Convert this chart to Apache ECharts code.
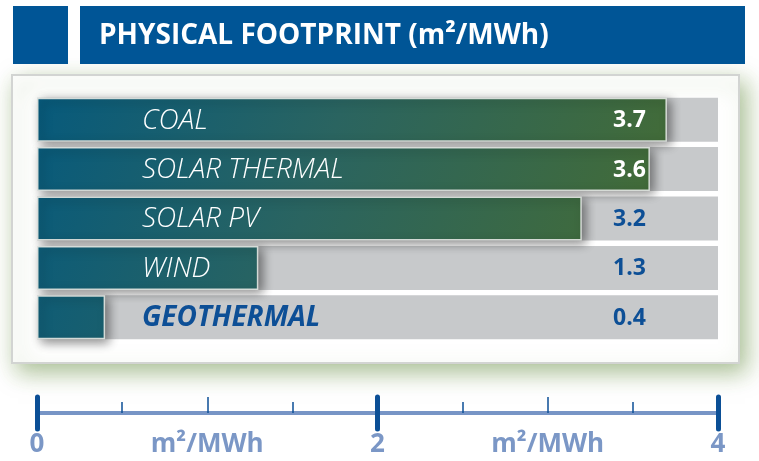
<!DOCTYPE html>
<html>
<head>
<meta charset="utf-8">
<script src="https://cdn.jsdelivr.net/npm/echarts@6/dist/echarts.min.js"></script>
<style>
  html, body { margin: 0; padding: 0; background: #fff; }
  #main { width: 759px; height: 461px; }
</style>
</head>
<body>
<div id="main"></div>
<script>
// data
const categories = ['COAL', 'SOLAR THERMAL', 'SOLAR PV', 'WIND', 'GEOTHERMAL']
const values = [3.7, 3.6, 3.2, 1.3, 0.4]
const axisMax = 4
const scaleLabels = ['0', 'm²/MWh', '2', 'm²/MWh', '4']

const chart = echarts.init(document.getElementById('main'))

const FONT = '"Open Sans", "Noto Sans", sans-serif'
const BLUE = '#0d4f96'

// bar fill runs across the whole plot (teal at left/top, green at right/bottom)
const barFill = new echarts.graphic.LinearGradient(37, 95, 720, 345, [
  { offset: 0, color: '#075a7c' },
  { offset: 0.4, color: '#2a6460' },
  { offset: 1, color: '#4b6e2a' }
], true)

const dataItems = values.map(function (v) {
  // labels that sit past the bar end are drawn in blue
  const nameOnBar = v >= 0.8
  const valueOnBar = v >= 3.5
  return {
    value: v,
    label: {
      rich: {
        n: {
          color: nameOnBar ? '#fff' : BLUE,
          fontStyle: 'italic',
          fontWeight: nameOnBar ? 300 : 'bold',
          fontSize: 28,
          fontFamily: FONT
        },
        v: {
          color: valueOnBar ? '#fff' : BLUE,
          fontWeight: 'bold',
          fontSize: 23,
          fontFamily: FONT
        }
      }
    }
  }
})

const majorTickAxis = function (inside) {
  return {
    type: 'value',
    min: 0,
    max: axisMax,
    interval: 2,
    position: 'bottom',
    offset: 71,
    axisLine: { show: false },
    axisTick: { show: true, inside: inside, length: 16, lineStyle: { color: '#0b4f96', width: 5, cap: 'round' } },
    axisLabel: { show: false },
    splitLine: { show: false }
  }
}

const option = {
  animation: false,
  grid: { left: 37, right: 41, top: 95, bottom: 119, outerBoundsMode: 'none', containLabel: false },
  graphic: [
    { type: 'rect', shape: { x: 13, y: 6, width: 55, height: 58 }, style: { fill: '#005596' } },
    { type: 'rect', shape: { x: 80, y: 6, width: 665, height: 58 }, style: { fill: '#005596' } },
    {
      type: 'text', x: 99, y: 36,
      style: {
        text: 'PHYSICAL FOOTPRINT (m²/MWh)', fill: '#fff', font: 'bold 28px ' + FONT,
        verticalAlign: 'middle'
      }
    },
    {
      type: 'rect', z: -1,
      shape: { x: 12, y: 75, width: 727, height: 288 },
      style: {
        fill: '#fff', stroke: '#d2d4d2', lineWidth: 2,
        shadowBlur: 22, shadowColor: 'rgba(95,135,55,0.55)', shadowOffsetX: 6, shadowOffsetY: 8
      }
    }
  ],
  xAxis: [
    {
      type: 'value',
      min: 0,
      max: axisMax,
      interval: 1,
      position: 'bottom',
      offset: 71,
      axisLine: { show: true, lineStyle: { color: '#7795c6', width: 4 } },
      axisTick: { show: true, inside: true, length: 16, lineStyle: { color: BLUE, width: 1.5 } },
      minorTick: { show: true, splitNumber: 2, length: 11, lineStyle: { color: BLUE, width: 1.5 } },
      axisLabel: {
        margin: 19,
        color: '#7b97c6',
        fontSize: 26,
        fontWeight: 'bold',
        fontFamily: FONT,
        formatter: function (v) { return scaleLabels[Math.round(v)] }
      },
      splitLine: { show: false }
    },
    majorTickAxis(true),
    majorTickAxis(false)
  ],
  yAxis: {
    type: 'category',
    data: categories,
    inverse: true,
    axisLine: { show: false },
    axisTick: { show: false },
    axisLabel: { show: false }
  },
  series: [
    {
      type: 'bar',
      silent: true,
      barWidth: 44,
      data: values.map(function () { return axisMax }),
      itemStyle: { color: '#c7c9cb' }
    },
    {
      type: 'bar',
      barWidth: 44,
      barGap: '-100%',
      data: dataItems,
      itemStyle: {
        color: barFill,
        borderColor: 'rgba(225,230,225,0.9)',
        borderWidth: 1.5,
        shadowBlur: 10,
        shadowColor: 'rgba(0,0,0,0.45)',
        shadowOffsetX: 4,
        shadowOffsetY: 3
      },
      label: {
        show: true,
        position: [105, '52%'],
        align: 'left',
        verticalAlign: 'middle',
        formatter: function (p) { return '{n|' + p.name + '}' }
      }
    },
    {
      // value labels, drawn from the same values
      type: 'bar',
      barWidth: 44,
      barGap: '-100%',
      silent: true,
      data: dataItems,
      itemStyle: { color: 'transparent' },
      label: {
        show: true,
        position: [576, '52%'],
        align: 'left',
        verticalAlign: 'middle',
        formatter: function (p) { return '{v|' + p.value.toFixed(1) + '}' }
      }
    }
  ]
}

chart.setOption(option)
</script>
</body>
</html>
